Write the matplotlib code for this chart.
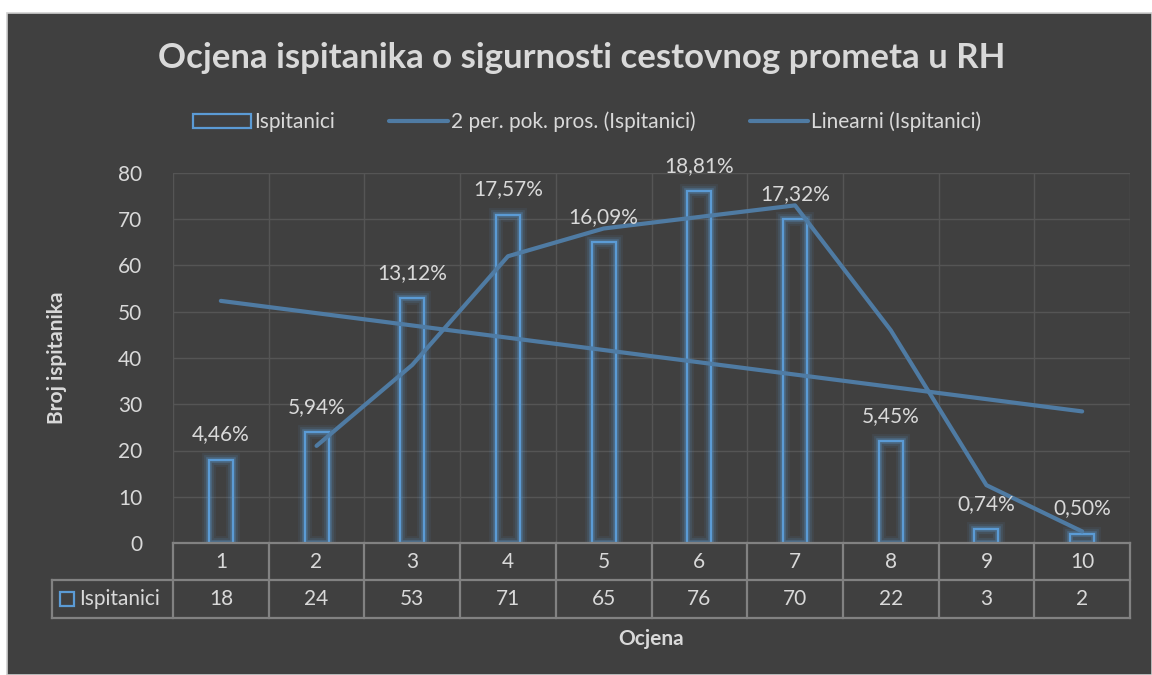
import numpy as np
import matplotlib.pyplot as plt
import matplotlib as mpl
import matplotlib.patheffects as pe
from matplotlib.patches import Rectangle
from matplotlib.lines import Line2D

# data
ocjene = ['1', '2', '3', '4', '5', '6', '7', '8', '9', '10']
ispitanici = [18, 24, 53, 71, 65, 76, 70, 22, 3, 2]
postoci = ['4,46%', '5,94%', '13,12%', '17,57%', '16,09%', '18,81%', '17,32%', '5,45%', '0,74%', '0,50%']
# 2 per. pok. pros. (starts at ocjena 2)
pom_x = [2, 3, 4, 5, 6, 7, 8, 9, 10]
pom_prosjek = [21, 38.5, 62, 68, 70.5, 73, 46, 12.5, 2.5]
# linear trend endpoints
lin_x = [1, 10]
lin_y = [52.35, 28.45]

bg = '#404040'
txt = '#d9d9d9'
bar_edge = '#5b9bd5'
line_c = '#4f7ba3'
grid_c = '#555555'
table_c = '#828282'
fs = 15

plt.rcParams['font.family'] = ['Lato', 'DejaVu Sans']

fig = plt.figure(figsize=(11.52, 6.75), dpi=100, facecolor='white')
fig.patches.append(Rectangle((7/1152, 0), 1 - 7/1152, (675-13)/675, transform=fig.transFigure,
                             facecolor=bg, edgecolor='#cfcfcf', lw=1.2, zorder=-10))

ax = fig.add_axes([173/1152, (675-543)/675, (1130-173)/1152, (543-173)/675])
ax.set_facecolor('none')

x = np.arange(1, len(ocjene) + 1)

# bars: outline only, with a soft glow
glow = [pe.Stroke(linewidth=10, foreground=bar_edge, alpha=0.08),
        pe.Stroke(linewidth=7, foreground=bar_edge, alpha=0.14),
        pe.Stroke(linewidth=4, foreground=bar_edge, alpha=0.3),
        pe.Normal()]
bars = ax.bar(x, ispitanici, width=0.25, facecolor='none', edgecolor=bar_edge, lw=1.6, zorder=3)
for b in bars:
    b.set_path_effects(glow)

ax.plot(pom_x, pom_prosjek, c=line_c, lw=3, solid_capstyle='round', solid_joinstyle='round', zorder=5)
ax.plot(lin_x, lin_y, c=line_c, lw=3, solid_capstyle='round', zorder=5)

for xi, v, p in zip(x, ispitanici, postoci):
    ax.annotate(p, (xi, v), xytext=(0, 11), textcoords='offset points', ha='center', va='bottom',
                fontsize=fs, color=txt, zorder=6)

ax.set_xlim(0.5, len(ocjene) + 0.5)
ax.set_ylim(0, 80)
ax.set_yticks(np.arange(0, 81, 10))
ax.set_xticks(np.arange(0.5, len(ocjene) + 1, 1))
ax.set_xticklabels([])
ax.tick_params(axis='both', length=0, colors=txt, labelsize=fs)
ax.tick_params(axis='y', pad=22)
ax.grid(True, color=grid_c, lw=1, zorder=0)
for s in ax.spines.values():
    s.set_visible(False)

ax.set_ylabel('Broj ispitanika', fontsize=fs, fontweight='bold', color=txt)
ax.yaxis.set_label_coords(-0.111, 0.5)
ax.set_xlabel('Ocjena', fontsize=fs, fontweight='bold', color=txt)
ax.xaxis.set_label_coords(0.5, -0.233)

# data table below the axis
tr = mpl.transforms.blended_transform_factory(ax.transData, ax.transAxes)
r1 = -37/370
r2 = -75/370
hdr_left = (52-173)/957
kw = dict(color=table_c, lw=1.6, clip_on=False, zorder=4)
ax.plot([0.5, 10.5], [0, 0], transform=tr, **kw)
ax.plot([0.5, 10.5], [r1, r1], transform=tr, **kw)
ax.plot([hdr_left, 0], [r1, r1], transform=ax.transAxes, **kw)
ax.plot([hdr_left, 1], [r2, r2], transform=ax.transAxes, **kw)
ax.plot([hdr_left, hdr_left], [r1, r2], transform=ax.transAxes, **kw)
for xb in np.arange(0.5, len(ocjene) + 1, 1):
    ax.plot([xb, xb], [0, r2], transform=tr, **kw)
for xi, o, v in zip(x, ocjene, ispitanici):
    ax.text(xi, r1/2, o, transform=tr, ha='center', va='center', fontsize=fs, color=txt)
    ax.text(xi, (r1 + r2)/2, str(v), transform=tr, ha='center', va='center', fontsize=fs, color=txt)
ax.add_patch(Rectangle(((60-173)/957, (r1 + r2)/2 - 7/370), 14/957, 14/370, transform=ax.transAxes,
                       facecolor='none', edgecolor=bar_edge, lw=1.6, clip_on=False))
ax.text((79-173)/957, (r1 + r2)/2, 'Ispitanici', transform=ax.transAxes, ha='left', va='center',
        fontsize=fs, color=txt)

# title and legend
fig.text(582/1152, 1 - 58/675, 'Ocjena ispitanika o sigurnosti cestovnog prometa u RH', ha='center', va='center',
         fontsize=25, fontweight='bold', color=txt)

handles = [Rectangle((0, 0), 1, 1, facecolor='none', edgecolor=bar_edge, lw=1.6),
           Line2D([], [], c=line_c, lw=3, solid_capstyle='round'),
           Line2D([], [], c=line_c, lw=3, solid_capstyle='round')]
labels = ['Ispitanici', '2 per. pok. pros. (Ispitanici)', 'Linearni (Ispitanici)']
fig.legend(handles, labels, loc='center', bbox_to_anchor=(587/1152, 1 - 122/675), ncol=3, frameon=False,
           fontsize=fs, labelcolor=txt, handlelength=2.8, handleheight=0.7, handletextpad=0.15, columnspacing=2.6)

fig.savefig('out.png', dpi=100, facecolor=fig.get_facecolor())
